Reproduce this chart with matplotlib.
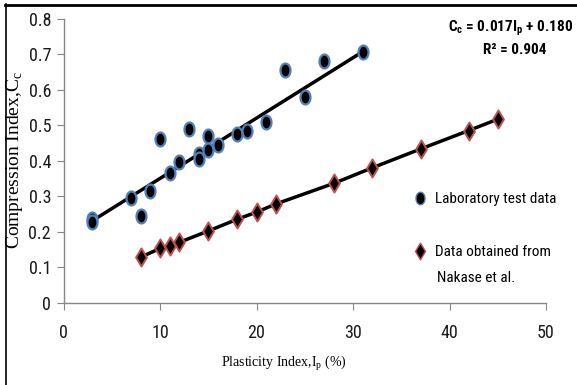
import matplotlib
matplotlib.use("Agg")
import matplotlib.pyplot as plt
from matplotlib import font_manager
from matplotlib.lines import Line2D
from matplotlib.path import Path
import numpy as np

# laboratory test data (Ip, Cc)
lab_ip = [3, 3, 7, 8, 9, 10, 11, 12, 13, 14, 14, 15, 15, 16, 18, 19, 21, 23, 25, 27, 31]
lab_cc = [0.235, 0.226, 0.295, 0.245, 0.315, 0.46, 0.365, 0.395, 0.49, 0.42, 0.405,
          0.47, 0.43, 0.445, 0.475, 0.485, 0.51, 0.655, 0.58, 0.68, 0.705]

# data from Nakase et al.
nak_ip = [8, 10, 11, 12, 15, 18, 20, 22, 28, 32, 37, 42, 45]
nak_cc = [0.128, 0.153, 0.16, 0.17, 0.202, 0.235, 0.255, 0.278, 0.336, 0.38, 0.433, 0.485, 0.517]

# regression line for the lab data
slope, intercept, r2 = 0.017, 0.180, 0.904

xticks = [0, 10, 20, 30, 40, 50]
yticks = [0, 0.1, 0.2, 0.3, 0.4, 0.5, 0.6, 0.7, 0.8]
ytick_labels = ["0", "0.1", "0.2", "0.3", "0.4", "0.5", "0.6", "0.7", "0.8"]

installed = {f.name for f in font_manager.fontManager.ttflist}
narrow = "Liberation Sans"
for name in ["Liberation Sans Narrow", "Roboto Condensed", "Open Sans Condensed",
             "Noto Sans Condensed", "DejaVu Sans Condensed"]:
    if name in installed:
        narrow = name
        break
condensed = narrow != "Liberation Sans"
serif = "Liberation Serif"
k = 1.0 if condensed else 0.85   # Liberation Sans runs wider, so a bit smaller

plt.rcParams["font.family"] = narrow
plt.rcParams["mathtext.fontset"] = "custom"
plt.rcParams["mathtext.rm"] = narrow
plt.rcParams["mathtext.bf"] = narrow + ":bold"
plt.rcParams["mathtext.sf"] = serif

W, H = 577, 385
fig = plt.figure(figsize=(W / 100, H / 100), dpi=100)
ax = fig.add_axes([63.5 / W, 1 - 302.7 / H, (546 - 63.5) / W, (302.7 - 18.7) / H])

# tall markers
t = np.linspace(0, 2 * np.pi, 40)
ellipse = Path(np.column_stack([0.72 * np.cos(t), np.sin(t)]), closed=True)
diamond = Path([(0, 1), (0.6, 0), (0, -1), (-0.6, 0), (0, 1)], closed=True)

ax.plot(lab_ip, lab_cc, ls="none", marker=ellipse, ms=10, mfc="black",
        mec="#4F81BD", mew=1.6, zorder=3)
xfit = np.array([min(lab_ip), max(lab_ip)])
ax.plot(xfit, slope * xfit + intercept, color="black", lw=2.5, zorder=2)

ax.plot(nak_ip, nak_cc, color="black", lw=2.5, marker=diamond, ms=13,
        mfc="black", mec="#C0504D", mew=1.4, zorder=3)

ax.set_xlim(0, 50)
ax.set_ylim(0, 0.8)
ax.set_xticks(xticks)
ax.set_yticks(yticks)
ax.set_yticklabels(ytick_labels)
for side in ["top", "right"]:
    ax.spines[side].set_visible(False)
for side in ["left", "bottom"]:
    ax.spines[side].set_color("#868686")
    ax.spines[side].set_linewidth(1)
ax.tick_params(axis="both", direction="out", length=5, color="#868686",
               labelsize=13 * k, labelcolor="#1a1a1a")
ax.tick_params(axis="x", pad=10)
ax.tick_params(axis="y", pad=4)

ax.set_xlabel(r"Plasticity Index,I$_\mathsf{p}$ (%)", family=serif, fontsize=10)
ax.xaxis.set_label_coords((284 - 63.5) / (546 - 63.5), -0.18)
ax.set_ylabel(r"Compression Index,C$_\mathsf{c}$", family=serif, fontsize=14)
ax.yaxis.set_label_coords(-(63.5 - 25) / (546 - 63.5), (302.7 - 160) / 284)

# regression equation
fig.text(573 / W, 1 - 28 / H, r"C$_\mathbf{c}$ = 0.017I$_\mathbf{p}$ + 0.180",
         ha="right", va="center", fontsize=11 * k, fontweight="bold")
fig.text(546 / W, 1 - 50 / H, "R² = %.3f" % r2, ha="right", va="center",
         fontsize=11 * k, fontweight="bold")

# legend
fs = 11 * k
handles = [Line2D([], [], ls="none", marker=ellipse, ms=9, mfc="black", mec="#4F81BD", mew=1),
           Line2D([], [], ls="none", marker=diamond, ms=12, mfc="black", mec="#C0504D", mew=1)]
leg = ax.legend(handles, ["Laboratory test data", "Data obtained from"], loc="upper left",
                bbox_to_anchor=(415 / W, 1 - 192 / H), bbox_transform=fig.transFigure,
                frameon=False, fontsize=fs, handlelength=0.6, handletextpad=0.7,
                labelspacing=(51 - 1.3 * fs) / (1.3 * fs), borderpad=0,
                borderaxespad=0)
fig.text(437 / W, 1 - 278 / H, "Nakase et al.", ha="left", va="center", fontsize=fs)

# page frame lines
fig.add_artist(Line2D([5 / W, 1], [1 - 4.5 / H, 1 - 4.5 / H], color="black", lw=2,
                      transform=fig.transFigure))
fig.add_artist(Line2D([5.5 / W, 5.5 / W], [0, 1 - 4 / H], color="black", lw=1.2,
                      transform=fig.transFigure))

fig.savefig("out.png", dpi=100)
